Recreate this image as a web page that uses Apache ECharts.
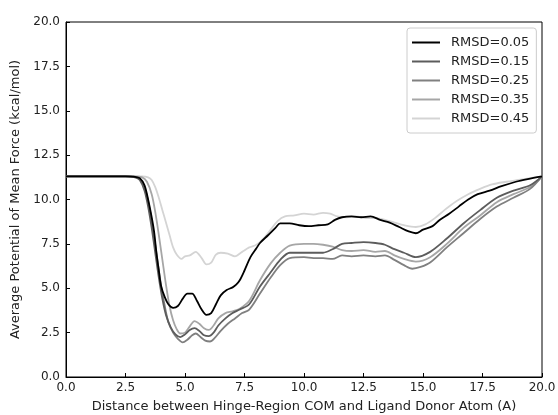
<!DOCTYPE html>
<html>
<head>
<meta charset="utf-8">
<script src="https://cdn.jsdelivr.net/npm/echarts@6/dist/echarts.min.js"></script>
<style>
  html, body { margin: 0; padding: 0; background: #fff; }
  #chart { width: 558px; height: 415px; }
</style>
</head>
<body>
<div id="chart"></div>
<script>
// PMF profiles, [distance (A), energy (kcal/mol)] per restraint strength
const seriesNames = ['RMSD=0.05', 'RMSD=0.15', 'RMSD=0.25', 'RMSD=0.35', 'RMSD=0.45'];
const lineColors = ['#000000', '#5c5c5c', '#808080', '#a6a6a6', '#d4d4d4'];

const rmsd005 = [[0,11.3],[2.5,11.3],[2.9,11.28],[3.1,11.2],[3.3,10.8],[3.45,10.0],[3.6,9.0],[3.7,8.2],[3.8,7.0],[3.9,6.0],[4.0,5.1],[4.15,4.5],[4.3,4.1],[4.5,3.9],[4.7,4.0],[4.9,4.4],[5.1,4.7],[5.3,4.7],[5.5,4.3],[5.7,3.8],[5.9,3.5],[6.1,3.6],[6.3,4.1],[6.5,4.6],[6.75,4.9],[7.0,5.05],[7.15,5.2],[7.3,5.45],[7.5,6.0],[7.75,6.75],[8.0,7.25],[8.15,7.55],[8.5,8.0],[8.8,8.4],[9.0,8.65],[9.4,8.65],[9.8,8.55],[10.2,8.5],[10.6,8.55],[11.0,8.6],[11.3,8.85],[11.6,9.0],[12.0,9.05],[12.4,9.0],[12.8,9.05],[13.2,8.85],[13.6,8.7],[14.0,8.45],[14.4,8.2],[14.7,8.1],[15.0,8.3],[15.4,8.5],[15.7,8.85],[16.1,9.2],[16.5,9.6],[16.9,10.0],[17.3,10.3],[17.8,10.5],[18.3,10.75],[18.9,11.0],[19.4,11.15],[20,11.3]];

const rmsd015 = [[0,11.3],[2.5,11.3],[2.9,11.25],[3.1,11.1],[3.3,10.5],[3.45,9.6],[3.6,8.4],[3.75,7.0],[3.9,5.6],[4.05,4.4],[4.2,3.5],[4.4,2.8],[4.6,2.4],[4.8,2.25],[5.0,2.4],[5.2,2.65],[5.4,2.75],[5.6,2.6],[5.8,2.35],[6.0,2.3],[6.2,2.5],[6.4,2.9],[6.7,3.3],[7.0,3.6],[7.3,3.8],[7.7,4.1],[8.15,5.1],[8.6,5.9],[9.0,6.6],[9.4,7.0],[10.0,7.0],[10.4,7.0],[10.8,7.0],[11.2,7.2],[11.6,7.5],[12.0,7.55],[12.5,7.6],[13.0,7.55],[13.4,7.45],[13.8,7.2],[14.2,7.0],[14.7,6.75],[15.3,7.05],[16.0,7.8],[16.7,8.65],[17.4,9.4],[18.1,10.1],[18.8,10.5],[19.5,10.8],[20,11.3]];

const rmsd025 = [[0,11.3],[2.6,11.3],[3.0,11.25],[3.2,11.0],[3.4,10.2],[3.55,9.2],[3.7,7.9],[3.85,6.5],[4.0,5.1],[4.15,4.0],[4.3,3.1],[4.5,2.5],[4.7,2.15],[4.9,1.95],[5.1,2.1],[5.3,2.35],[5.45,2.45],[5.65,2.25],[5.85,2.05],[6.05,2.0],[6.25,2.2],[6.5,2.6],[6.8,3.0],[7.1,3.3],[7.4,3.6],[7.7,3.8],[8.15,4.7],[8.6,5.6],[9.0,6.3],[9.4,6.7],[10.0,6.75],[10.4,6.7],[10.8,6.7],[11.2,6.65],[11.6,6.85],[12.0,6.8],[12.5,6.85],[13.0,6.8],[13.4,6.85],[13.8,6.6],[14.2,6.3],[14.55,6.1],[14.9,6.2],[15.3,6.45],[16.0,7.3],[16.7,8.1],[17.4,8.9],[18.1,9.6],[18.8,10.1],[19.5,10.6],[20,11.3]];

const rmsd035 = [[0,11.3],[2.8,11.3],[3.2,11.25],[3.4,11.0],[3.6,10.3],[3.75,9.3],[3.9,8.0],[4.05,6.6],[4.2,5.2],[4.35,4.0],[4.5,3.2],[4.65,2.7],[4.8,2.45],[5.0,2.5],[5.2,2.85],[5.4,3.15],[5.6,3.0],[5.8,2.75],[6.0,2.65],[6.2,2.9],[6.4,3.3],[6.7,3.6],[7.0,3.7],[7.3,3.85],[7.7,4.3],[8.15,5.45],[8.6,6.4],[9.0,7.0],[9.4,7.4],[10.0,7.5],[10.4,7.5],[10.8,7.45],[11.2,7.35],[11.6,7.15],[12.0,7.1],[12.5,7.15],[13.0,7.05],[13.4,7.1],[13.8,6.85],[14.2,6.65],[14.7,6.5],[15.3,6.75],[16.0,7.5],[16.7,8.4],[17.4,9.1],[18.1,9.85],[18.8,10.3],[19.5,10.7],[20,11.3]];

const rmsd045 = [[0,11.3],[3.2,11.3],[3.45,11.25],[3.6,11.1],[3.75,10.7],[3.9,10.1],[4.05,9.4],[4.2,8.7],[4.35,8.0],[4.5,7.3],[4.65,6.9],[4.85,6.65],[5.0,6.8],[5.2,6.85],[5.45,7.05],[5.7,6.7],[5.9,6.35],[6.1,6.45],[6.3,6.9],[6.5,7.0],[6.8,6.95],[7.1,6.8],[7.4,7.05],[7.7,7.3],[8.0,7.45],[8.3,7.8],[8.6,8.3],[8.9,8.8],[9.2,9.05],[9.6,9.1],[10.0,9.2],[10.4,9.15],[10.8,9.25],[11.1,9.2],[11.4,9.05],[11.8,9.0],[12.2,9.05],[12.6,8.95],[13.0,8.95],[13.4,8.85],[13.8,8.7],[14.2,8.55],[14.7,8.45],[15.1,8.6],[15.5,8.95],[15.9,9.4],[16.4,9.9],[16.9,10.3],[17.4,10.6],[17.9,10.85],[18.5,11.0],[19.0,11.1],[19.5,11.2],[20,11.3]];

const profiles = [rmsd005, rmsd015, rmsd025, rmsd035, rmsd045];

const xTitle = 'Distance between Hinge-Region COM and Ligand Donor Atom (A)';
const yTitle = 'Average Potential of Mean Force (kcal/mol)';

const font = 'DejaVu Sans';
const chart = echarts.init(document.getElementById('chart'), null, { renderer: 'canvas' });

function axisCommon(title, gap) {
  return {
    type: 'value',
    min: 0,
    max: 20,
    interval: 2.5,
    name: title,
    nameLocation: 'middle',
    nameGap: gap,
    nameTextStyle: { fontFamily: font, fontSize: 13, color: '#222' },
    axisLine: { show: true, onZero: false, lineStyle: { color: '#000', width: 1 } },
    axisTick: { show: true, inside: true, length: 4, lineStyle: { color: '#000' } },
    axisLabel: {
      fontFamily: font, fontSize: 12, color: '#222',
      formatter: v => v.toFixed(1)
    },
    splitLine: { show: false }
  };
}

const xAxis = axisCommon(xTitle, 23);
xAxis.axisLabel.margin = 5;
const yAxis = axisCommon(yTitle, 40);
yAxis.axisLabel.margin = 6;

chart.setOption({
  animation: false,
  backgroundColor: '#fff',
  grid: {
    left: 66, right: 16, top: 22, bottom: 38,
    outerBoundsMode: 'none',
    containLabel: false,
    show: true, borderColor: '#000', borderWidth: 1, backgroundColor: 'transparent'
  },
  legend: {
    data: seriesNames,
    orient: 'vertical',
    left: 407,
    top: 28,
    padding: [7, 7, 7, 5],
    itemGap: 4,
    itemWidth: 28,
    itemHeight: 2,
    icon: 'rect',
    borderColor: '#cccccc',
    borderWidth: 1,
    borderRadius: 3,
    backgroundColor: '#fff',
    textStyle: { fontFamily: font, fontSize: 13, color: '#222', lineHeight: 15, padding: [0, 0, 0, 6] }
  },
  xAxis: xAxis,
  yAxis: yAxis,
  series: profiles.map((d, i) => ({
    name: seriesNames[i],
    type: 'line',
    data: d,
    showSymbol: false,
    symbol: 'none',
    smooth: 0.3,
    color: lineColors[i],
    lineStyle: { color: lineColors[i], width: 1.8 },
    z: 10 - i
  }))
});
</script>
</body>
</html>
